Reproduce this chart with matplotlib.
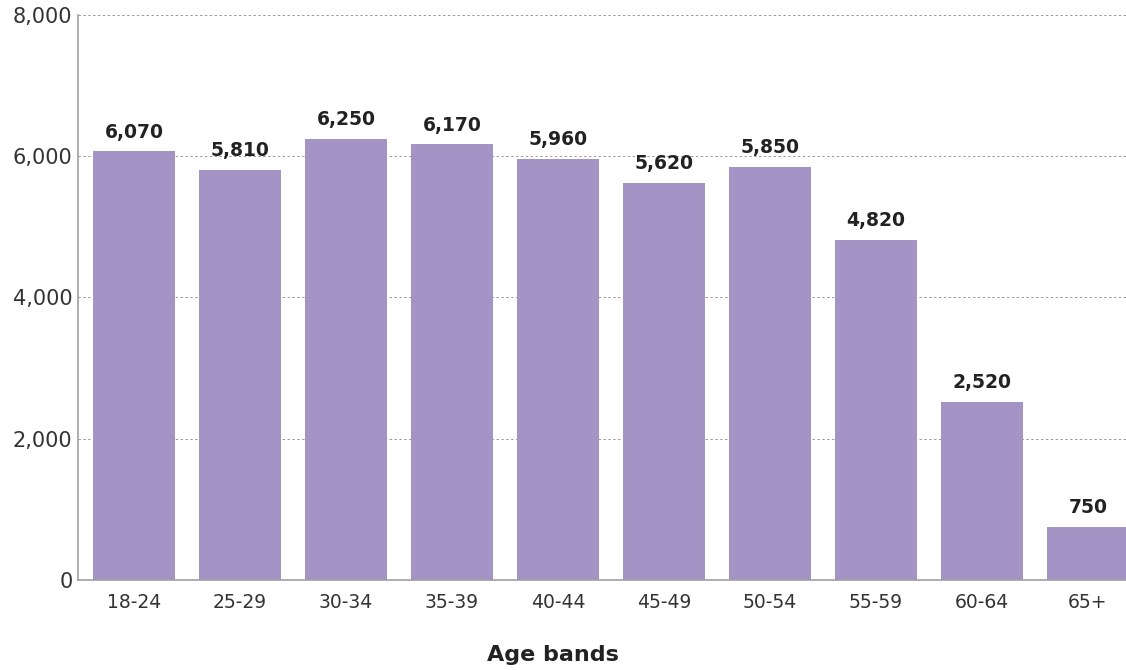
import matplotlib
matplotlib.use("Agg")
import matplotlib.pyplot as plt
from matplotlib.ticker import FuncFormatter

plt.rcParams["font.family"] = ["DejaVu Sans"]

age_bands = ["18-24", "25-29", "30-34", "35-39", "40-44",
             "45-49", "50-54", "55-59", "60-64", "65+"]
counts = [6070, 5810, 6250, 6170, 5960, 5620, 5850, 4820, 2520, 750]
y_ticks = [0, 2000, 4000, 6000, 8000]

bar_color = "#a494c6"
text_color = "#222222"
tick_color = "#333333"

fig = plt.figure(figsize=(11.26, 6.70), dpi=100)
ax = fig.add_axes([78 / 1126, 90 / 670, 1 - 78 / 1126, 565 / 670])

x = range(len(age_bands))
ax.bar(x, counts, width=0.78, color=bar_color, zorder=2)

# value labels above each bar
for xi, v in zip(x, counts):
    ax.annotate(f"{v:,}", (xi, v), xytext=(0, 7), textcoords="offset points",
                ha="center", va="bottom", fontsize=13.5, fontweight="bold",
                color=text_color)

ax.set_xlim(-0.53, 9.36)
ax.set_ylim(0, 8000)
ax.set_yticks(y_ticks)
ax.yaxis.set_major_formatter(FuncFormatter(lambda v, _: f"{int(v):,}"))
ax.set_xticks(list(x))
ax.set_xticklabels(age_bands)

ax.grid(axis="y", linestyle=(0, (2.5, 2.5)), color="#9a9a9a", linewidth=0.7, zorder=0)
ax.tick_params(axis="both", length=0, labelcolor=tick_color)
ax.tick_params(axis="x", pad=9, labelsize=13.5)
ax.tick_params(axis="y", pad=4, labelsize=15)

for side in ["top", "right"]:
    ax.spines[side].set_visible(False)
for side in ["left", "bottom"]:
    ax.spines[side].set_color("#a0a0a0")
    ax.spines[side].set_linewidth(1.2)

fig.text(553 / 1126, 15 / 670, "Age bands", ha="center", va="center",
         fontsize=16, fontweight="bold", color=text_color)

fig.savefig("out.png", dpi=100)
